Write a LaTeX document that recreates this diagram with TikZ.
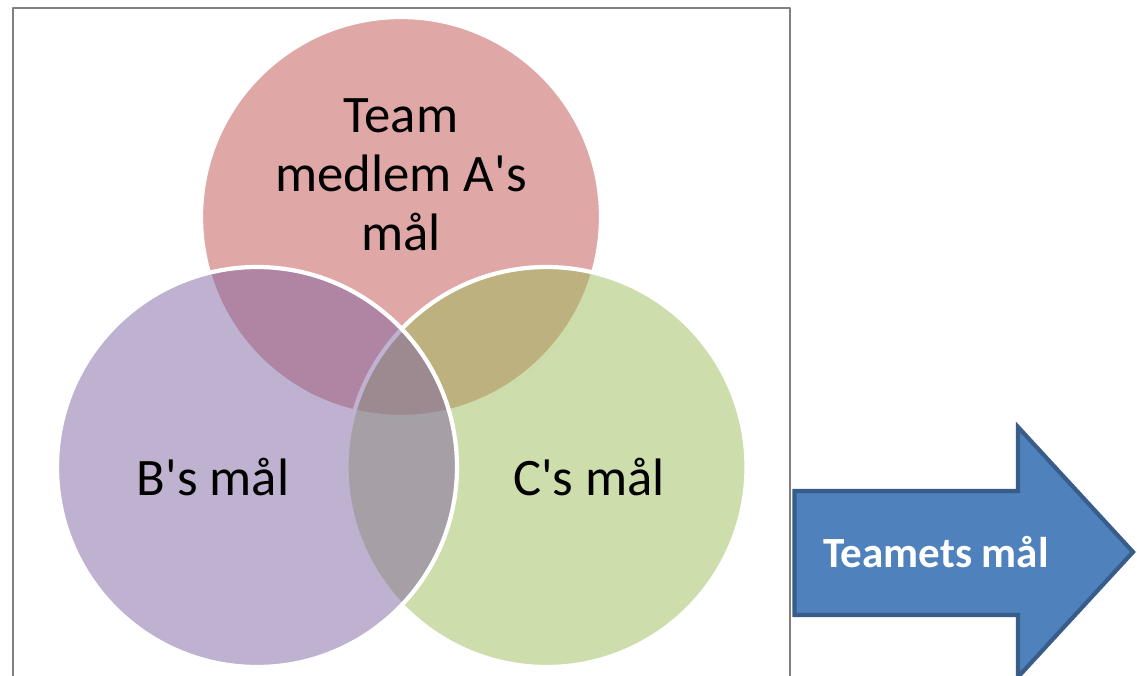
\documentclass[tikz,border=0pt]{standalone}
\usepackage{fontspec}
\setmainfont{Carlito}
\definecolor{goalred}{HTML}{C0504D}
\definecolor{goalpurple}{HTML}{8064A2}
\definecolor{goalgreen}{HTML}{9BBB59}
\definecolor{arrowfill}{HTML}{4F81BD}
\definecolor{arrowline}{HTML}{385D8A}
\definecolor{framegray}{HTML}{808080}
\newcommand{\apo}{\textquotesingle}
\begin{document}
\begin{tikzpicture}[line join=round,
	goalcircle/.style={fill opacity=.5, draw=white, line width=2.4pt},
	goaltext/.style={font=\fontsize{30}{33.6}\selectfont, align=center}]
	\useasboundingbox (0,0) rectangle (22.74,13.5);
	\clip (0,0) rectangle (22.74,13.5);
	\path (8.02,9.16)coordinate(A) (5.14,4.16)coordinate(B) (10.93,4.16)coordinate(C);
	% frame round the circles
	\draw[framegray, line width=1pt] (0.26,-1)--(0.26,13.34)--(15.8,13.34)--(15.8,-1);
	\foreach \p/\c in {A/goalred,C/goalgreen,B/goalpurple}
	{
		\path[goalcircle, fill=\c] (\p) circle (4);
	}
	\node[goaltext] (goalA) at (8.02,10.0) {Team\\medlem A\apo s\\mål};
	\node[goaltext, anchor=base] (goalB) at (4.26,3.6) {B\apo s mål};
	\node[goaltext, anchor=base] (goalC) at (11.78,3.6) {C\apo s mål};
	% arrow
	\draw[arrowline, fill=arrowfill, line width=2.4pt, line join=miter]
		(15.89,3.68)--(20.36,3.68)--(20.36,4.96)--(22.66,2.46)--(20.36,-0.04)--(20.36,1.2)--(15.89,1.2)--cycle;
	\node[text=white, font=\bfseries\fontsize{24.5}{28}\selectfont, anchor=base] (goalT) at (18.72,2.16) {Teamets mål};
\end{tikzpicture}
\end{document}
